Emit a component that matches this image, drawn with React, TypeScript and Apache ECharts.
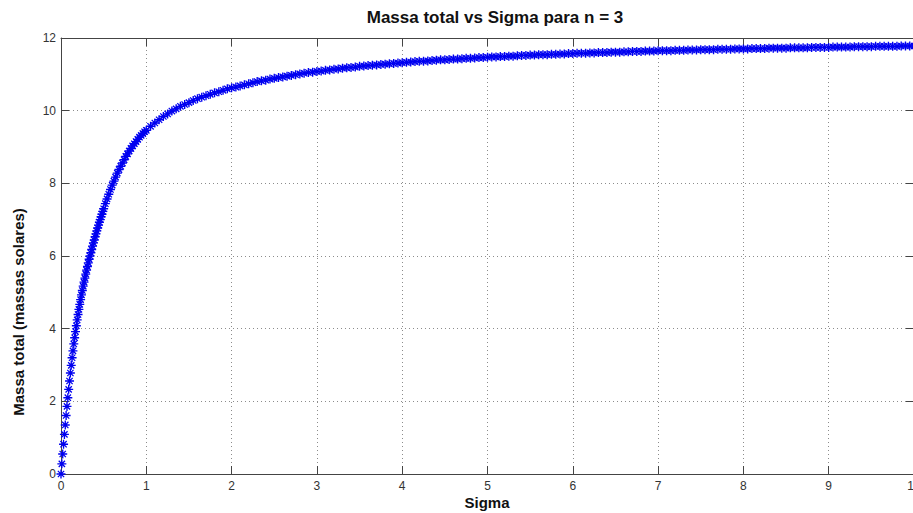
import React, { useEffect, useRef } from "react";
import * as echarts from "echarts";

const titleText = "Massa total vs Sigma para n = 3";
const xAxisTitle = "Sigma";
const yAxisTitle = "Massa total (massas solares)";
const xTicks = [0, 1, 2, 3, 4, 5, 6, 7, 8, 9, 10];
const yTicks = [0, 2, 4, 6, 8, 10, 12];

const sigmaValues = [
  0, 0.01, 0.02, 0.03, 0.04, 0.05, 0.06, 0.07, 0.08, 0.09,
  0.1, 0.11, 0.12, 0.13, 0.14, 0.15, 0.16, 0.17, 0.18, 0.19,
  0.2, 0.21, 0.22, 0.23, 0.24, 0.25, 0.26, 0.27, 0.28, 0.29,
  0.3, 0.31, 0.32, 0.33, 0.34, 0.35, 0.36, 0.37, 0.38, 0.39,
  0.4, 0.41, 0.42, 0.43, 0.44, 0.45, 0.46, 0.47, 0.48, 0.49, 0.5,
  0.52, 0.54, 0.56, 0.58, 0.6, 0.62, 0.64, 0.66, 0.68, 0.7,
  0.72, 0.74, 0.76, 0.78, 0.8, 0.82, 0.84, 0.86, 0.88, 0.9,
  0.92, 0.94, 0.96, 0.98, 1.0,
  1.05, 1.1, 1.15, 1.2, 1.25, 1.3, 1.35, 1.4, 1.45, 1.5,
  1.55, 1.6, 1.65, 1.7, 1.75, 1.8, 1.85, 1.9, 1.95, 2.0,
  2.05, 2.1, 2.15, 2.2, 2.25, 2.3, 2.35, 2.4, 2.45, 2.5,
  2.55, 2.6, 2.65, 2.7, 2.75, 2.8, 2.85, 2.9, 2.95, 3.0,
  3.05, 3.1, 3.15, 3.2, 3.25, 3.3, 3.35, 3.4, 3.45, 3.5,
  3.55, 3.6, 3.65, 3.7, 3.75, 3.8, 3.85, 3.9, 3.95, 4.0,
  4.05, 4.1, 4.15, 4.2, 4.25, 4.3, 4.35, 4.4, 4.45, 4.5,
  4.55, 4.6, 4.65, 4.7, 4.75, 4.8, 4.85, 4.9, 4.95, 5.0,
  5.05, 5.1, 5.15, 5.2, 5.25, 5.3, 5.35, 5.4, 5.45, 5.5,
  5.55, 5.6, 5.65, 5.7, 5.75, 5.8, 5.85, 5.9, 5.95, 6.0,
  6.05, 6.1, 6.15, 6.2, 6.25, 6.3, 6.35, 6.4, 6.45, 6.5,
  6.55, 6.6, 6.65, 6.7, 6.75, 6.8, 6.85, 6.9, 6.95, 7.0,
  7.05, 7.1, 7.15, 7.2, 7.25, 7.3, 7.35, 7.4, 7.45, 7.5,
  7.55, 7.6, 7.65, 7.7, 7.75, 7.8, 7.85, 7.9, 7.95, 8.0,
  8.05, 8.1, 8.15, 8.2, 8.25, 8.3, 8.35, 8.4, 8.45, 8.5,
  8.55, 8.6, 8.65, 8.7, 8.75, 8.8, 8.85, 8.9, 8.95, 9.0,
  9.05, 9.1, 9.15, 9.2, 9.25, 9.3, 9.35, 9.4, 9.45, 9.5,
  9.55, 9.6, 9.65, 9.7, 9.75, 9.8, 9.85, 9.9, 9.95, 10.0,
];

const massValues = [
  0, 0.28, 0.55, 0.82, 1.09, 1.35, 1.61, 1.86, 2.1, 2.33,
  2.56, 2.78, 2.99, 3.2, 3.39, 3.58, 3.75, 3.92, 4.08, 4.24,
  4.39, 4.53, 4.67, 4.8, 4.93, 5.05, 5.17, 5.28, 5.39, 5.5,
  5.61, 5.71, 5.81, 5.91, 6.0, 6.09, 6.18, 6.27, 6.36, 6.44,
  6.53, 6.61, 6.69, 6.77, 6.85, 6.93, 7.0, 7.08, 7.15, 7.23, 7.3,
  7.44, 7.57, 7.7, 7.83, 7.95, 8.06, 8.17, 8.28, 8.38, 8.47,
  8.56, 8.65, 8.74, 8.81, 8.89, 8.96, 9.03, 9.09, 9.15, 9.21,
  9.27, 9.32, 9.37, 9.42, 9.46,
  9.57, 9.66, 9.75, 9.84, 9.91, 9.99, 10.05, 10.12, 10.17, 10.22,
  10.28, 10.33, 10.37, 10.41, 10.45, 10.49, 10.52, 10.56, 10.6, 10.63,
  10.65, 10.68, 10.71, 10.74, 10.77, 10.8, 10.82, 10.84, 10.87, 10.89,
  10.91, 10.93, 10.95, 10.97, 10.99, 11.01, 11.03, 11.05, 11.06, 11.08,
  11.09, 11.11, 11.12, 11.14, 11.15, 11.17, 11.18, 11.19, 11.2, 11.22,
  11.23, 11.24, 11.25, 11.26, 11.27, 11.28, 11.29, 11.3, 11.31, 11.32,
  11.33, 11.34, 11.35, 11.36, 11.36, 11.37, 11.38, 11.39, 11.4, 11.4,
  11.41, 11.42, 11.42, 11.43, 11.44, 11.44, 11.45, 11.46, 11.46, 11.47,
  11.48, 11.48, 11.49, 11.49, 11.5, 11.5, 11.51, 11.52, 11.52, 11.53,
  11.53, 11.54, 11.54, 11.54, 11.55, 11.55, 11.56, 11.56, 11.57, 11.57,
  11.58, 11.58, 11.58, 11.59, 11.59, 11.6, 11.6, 11.6, 11.61, 11.61,
  11.61, 11.62, 11.62, 11.63, 11.63, 11.63, 11.64, 11.64, 11.64, 11.65,
  11.65, 11.65, 11.65, 11.66, 11.66, 11.66, 11.67, 11.67, 11.67, 11.68,
  11.68, 11.68, 11.68, 11.69, 11.69, 11.69, 11.69, 11.7, 11.7, 11.7,
  11.7, 11.71, 11.71, 11.71, 11.71, 11.72, 11.72, 11.72, 11.72, 11.72,
  11.73, 11.73, 11.73, 11.73, 11.73, 11.74, 11.74, 11.74, 11.74, 11.74,
  11.75, 11.75, 11.75, 11.75, 11.75, 11.76, 11.76, 11.76, 11.76, 11.76,
  11.77, 11.77, 11.77, 11.77, 11.77, 11.77, 11.78, 11.78, 11.78, 11.78,
];

const FONT = '"Liberation Sans", Arial, sans-serif';
const ASTERISK =
  "path://M8.5 0H11.5V20H8.5Z M0 8.5H20V11.5H0Z M2 4L4 2L18 16L16 18Z M16 2L18 4L4 18L2 16Z";

export default function App() {
  const ref = useRef<HTMLDivElement>(null);

  useEffect(() => {
    if (!ref.current) return;
    const chart = echarts.init(ref.current, undefined, { renderer: "svg" });
    const points = sigmaValues.map((s, i) => [s, massValues[i]]);
    const axisColor = "#444";
    const gridLine = { show: true, lineStyle: { color: "#8c8c8c", width: 1, type: [1, 3] as any } };
    const textStyleBase = {
      align: "center",
      verticalAlign: "middle",
      textAlign: "center",
      textVerticalAlign: "middle",
      fontWeight: "bold",
      fontFamily: FONT,
      fill: "#111",
    };

    chart.setOption({
      animation: false,
      backgroundColor: "#ffffff",
      grid: { left: 61, top: 38, width: 853, height: 436, containLabel: false },
      xAxis: [
        {
          type: "value",
          position: "bottom",
          min: xTicks[0],
          max: xTicks[xTicks.length - 1],
          interval: 1,
          axisLine: { show: true, onZero: false, lineStyle: { color: axisColor, width: 1 } },
          axisTick: { show: true, inside: true, length: 8, lineStyle: { color: axisColor } },
          axisLabel: { color: "#333", fontSize: 12, fontFamily: FONT, margin: 6 },
          splitLine: gridLine,
        },
        {
          type: "value",
          position: "top",
          min: xTicks[0],
          max: xTicks[xTicks.length - 1],
          interval: 1,
          axisLine: { show: true, onZero: false, lineStyle: { color: axisColor, width: 1 } },
          axisTick: { show: true, inside: true, length: 8, lineStyle: { color: axisColor } },
          axisLabel: { show: false },
          splitLine: { show: false },
        },
      ],
      yAxis: [
        {
          type: "value",
          position: "left",
          min: yTicks[0],
          max: yTicks[yTicks.length - 1],
          interval: 2,
          axisLine: { show: true, onZero: false, lineStyle: { color: axisColor, width: 1 } },
          axisTick: { show: true, inside: true, length: 8, lineStyle: { color: axisColor } },
          axisLabel: { color: "#333", fontSize: 12, fontFamily: FONT, margin: 5 },
          splitLine: gridLine,
        },
        {
          type: "value",
          position: "right",
          min: yTicks[0],
          max: yTicks[yTicks.length - 1],
          interval: 2,
          axisLine: { show: true, onZero: false, lineStyle: { color: axisColor, width: 1 } },
          axisTick: { show: true, inside: true, length: 8, lineStyle: { color: axisColor } },
          axisLabel: { show: false },
          splitLine: { show: false },
        },
      ],
      series: [
        {
          type: "scatter",
          xAxisIndex: 0,
          yAxisIndex: 0,
          data: points,
          symbol: ASTERISK,
          symbolSize: 9,
          itemStyle: { color: "#0000f0", opacity: 1 },
          clip: false,
        },
      ],
      graphic: [
        {
          type: "text",
          x: 495,
          y: 17,
          style: { ...textStyleBase, text: titleText, fontSize: 17 },
        },
        {
          type: "text",
          x: 487,
          y: 502,
          style: { ...textStyleBase, text: xAxisTitle, fontSize: 15 },
        },
        {
          type: "text",
          x: 18,
          y: 312,
          rotation: Math.PI / 2,
          style: { ...textStyleBase, text: yAxisTitle, fontSize: 15 },
        },
      ],
    });
    return () => chart.dispose();
  }, []);

  return (
    <div style={{ position: "fixed", left: 0, top: 0, width: 913, height: 513, overflow: "hidden", background: "#fff" }}>
      <div ref={ref} style={{ width: 940, height: 513 }} />
    </div>
  );
}
